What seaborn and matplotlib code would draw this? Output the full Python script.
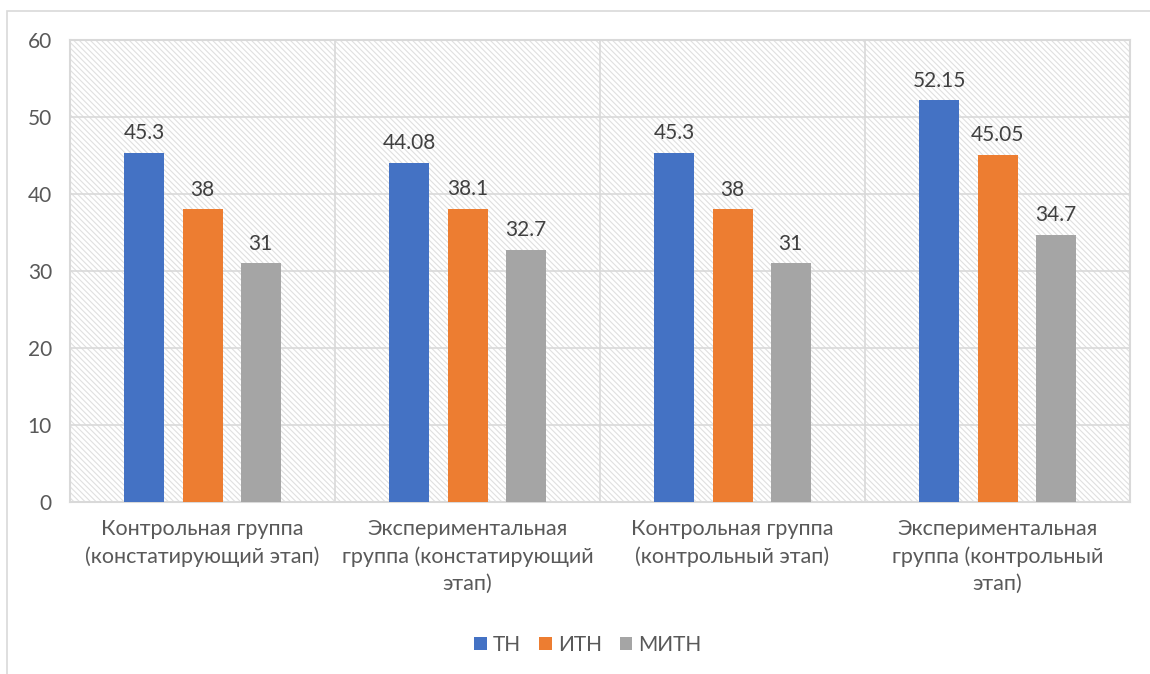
import matplotlib
matplotlib.use("Agg")
import matplotlib.pyplot as plt
import seaborn as sns
import pandas as pd
from matplotlib.patches import Rectangle

# data
l_categories = [
    "Контрольная группа\n(констатирующий этап)",
    "Экспериментальная\nгруппа (констатирующий\nэтап)",
    "Контрольная группа\n(контрольный этап)",
    "Экспериментальная\nгруппа (контрольный\nэтап)",
]
l_series = ["ТН", "ИТН", "МИТН"]
vals_tn = [45.3, 44.08, 45.3, 52.15]
vals_itn = [38, 38.1, 38, 45.05]
vals_mitn = [31, 32.7, 31, 34.7]
l_labels_tn = ["45.3", "44.08", "45.3", "52.15"]
l_labels_itn = ["38", "38.1", "38", "45.05"]
l_labels_mitn = ["31", "32.7", "31", "34.7"]

colors = ["#4472C4", "#ED7D31", "#A5A5A5"]
text_color = "#595959"
grid_color = "#D9D9D9"

df = pd.DataFrame({
    "Category": l_categories * 3,
    "Series": [s for s in l_series for _ in l_categories],
    "Value": vals_tn + vals_itn + vals_mitn,
})

sns.set_theme(style="white")
plt.rcParams["font.family"] = ["Lato", "DejaVu Sans"]
plt.rcParams["hatch.linewidth"] = 0.8
plt.rcParams["hatch.color"] = "#E0E0E0"

fig = plt.figure(figsize=(11.5, 6.74), dpi=100)
ax = fig.add_axes([70 / 1150, 1 - 502 / 674, 1060 / 1150, 462 / 674])

# outer chart border
fig.patches.append(Rectangle((7 / 1150, -0.1), 1.2, 1 - 11 / 674 + 0.1,
                             transform=fig.transFigure, fill=False,
                             edgecolor=grid_color, linewidth=1.2, zorder=0))

sns.barplot(data=df, x="Category", y="Value", hue="Series", order=l_categories,
            hue_order=l_series, palette=colors, width=0.657, saturation=1,
            ax=ax, legend=True, zorder=3, edgecolor="none")

# shrink bars to leave gaps between them
bar_w = 40 / 265
for patch in ax.patches:
    cx = patch.get_x() + patch.get_width() / 2
    patch.set_width(bar_w)
    patch.set_x(cx - bar_w / 2)

for container, labs in zip(ax.containers, [l_labels_tn, l_labels_itn, l_labels_mitn]):
    ax.bar_label(container, labels=labs, padding=7, fontsize=15, color="#404040")

# hatched background
ax.add_patch(Rectangle((0, 0), 1, 1, transform=ax.transAxes, facecolor="white",
                       hatch="\\\\\\\\\\\\", edgecolor="#E0E0E0", linewidth=0, zorder=0))

ax.set_ylim(0, 60)
ax.set_xlim(-0.5, 3.5)
ax.set_yticks(range(0, 61, 10))
ax.set_xlabel("")
ax.set_ylabel("")
ax.tick_params(axis="y", labelsize=15, labelcolor=text_color, length=0, pad=13)
ax.tick_params(axis="x", labelsize=15.5, labelcolor=text_color, length=0, pad=12)
for lab in ax.get_xticklabels():
    lab.set_linespacing(1.45)

for y in range(10, 61, 10):
    ax.axhline(y, color=grid_color, linewidth=1.2, zorder=1)
for x in [0.5, 1.5, 2.5]:
    ax.axvline(x, color=grid_color, linewidth=1.2, zorder=1)
for side in ["top", "right", "left", "bottom"]:
    ax.spines[side].set_color(grid_color)
    ax.spines[side].set_linewidth(1.5)
    ax.spines[side].set_visible(True)

handles, labels = ax.get_legend_handles_labels()
ax.legend().remove()
fig.legend(handles, labels, loc="center", bbox_to_anchor=(0.5 + 13 / 1150, 1 - 645 / 674),
           ncol=3, frameon=False, fontsize=15, labelcolor=text_color,
           handlelength=0.6, handleheight=0.6, handletextpad=0.3, columnspacing=0.85)

fig.savefig("out.png", dpi=100, facecolor="white")
